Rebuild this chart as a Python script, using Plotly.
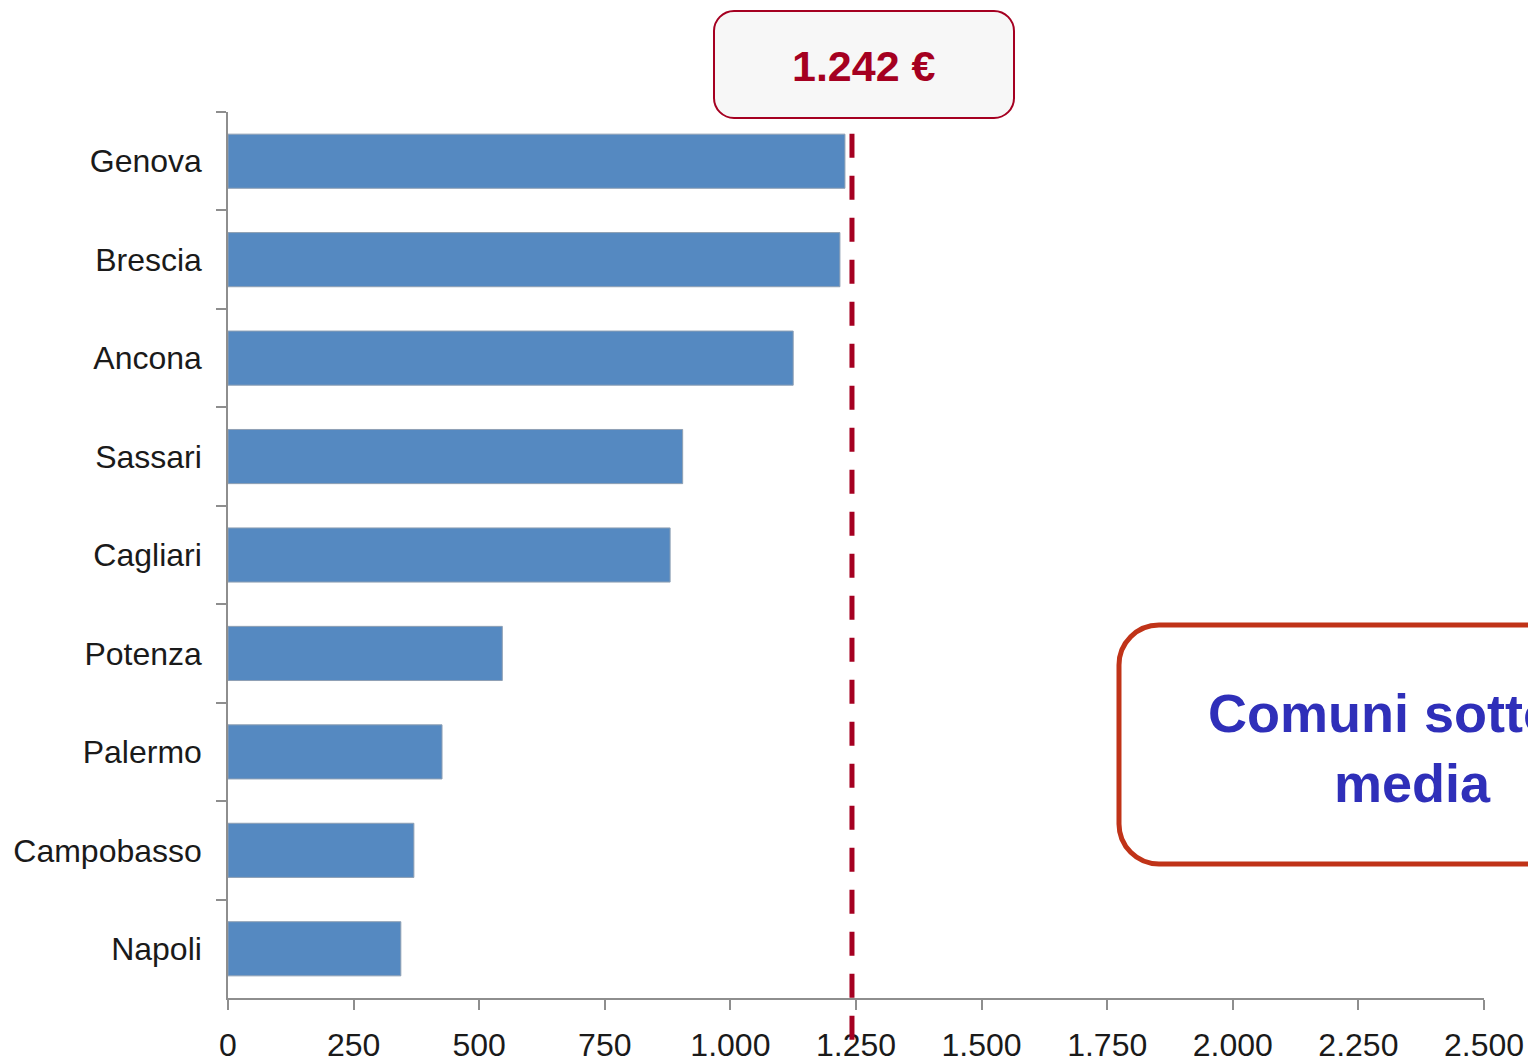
import plotly.graph_objects as go

# dati
comuni = ["Genova", "Brescia", "Ancona", "Sassari", "Cagliari", "Potenza", "Palermo", "Campobasso", "Napoli"]
valori = [1228, 1218, 1125, 905, 880, 546, 426, 370, 344]
media = 1242
media_label = "1.242 €"
x_tickvals = [0, 250, 500, 750, 1000, 1250, 1500, 1750, 2000, 2250, 2500]
x_ticktext = ["0", "250", "500", "750", "1.000", "1.250", "1.500", "1.750", "2.000", "2.250", "2.500"]
nota = "Comuni sotto la<br>media"

W, H = 1528, 1061
L, R, T, B = 228, 44, 112, 63
PW, PH = W - L - R, H - T - B

BAR = "#5589C1"
RED = "#A50021"
ORANGE = "#C03318"
BLUE = "#2F2FB9"
AXIS = "#8E8E8E"
FONT = "Liberation Sans, Arial, sans-serif"


def px_to_paper(x, y):
    return (x - L) / PW, (H - B - y) / PH


def rounded_box(x0, y0, x1, y1, r):
    # rettangolo arrotondato in pixel -> path in coordinate paper
    k = 0.5523 * r
    pts = [
        ("M", [(x0 + r, y0)]),
        ("L", [(x1 - r, y0)]),
        ("C", [(x1 - r + k, y0), (x1, y0 + r - k), (x1, y0 + r)]),
        ("L", [(x1, y1 - r)]),
        ("C", [(x1, y1 - r + k), (x1 - r + k, y1), (x1 - r, y1)]),
        ("L", [(x0 + r, y1)]),
        ("C", [(x0 + r - k, y1), (x0, y1 - r + k), (x0, y1 - r)]),
        ("L", [(x0, y0 + r)]),
        ("C", [(x0, y0 + r - k), (x0 + r - k, y0), (x0 + r, y0)]),
    ]
    out = ""
    for cmd, ps in pts:
        out += cmd + " " + " ".join("%.5f,%.5f" % px_to_paper(a, b) for a, b in ps) + " "
    return out + "Z"


fig = go.Figure(
    go.Bar(
        x=valori,
        y=comuni,
        orientation="h",
        marker=dict(color=BAR, line=dict(color="#8FA0B4", width=1)),
        width=0.55,
        hoverinfo="x+y",
    )
)

fig.add_shape(
    type="line", xref="x", yref="paper",
    x0=media, x1=media, y0=-0.047, y1=1.05,
    line=dict(color=RED, width=5, dash="24px,18px"),
    layer="above",
)
fig.add_shape(
    type="path", xref="paper", yref="paper",
    path=rounded_box(714, 11, 1014, 118, 20),
    line=dict(color=RED, width=2), fillcolor="#F7F7F7", layer="above",
)
fig.add_shape(
    type="path", xref="paper", yref="paper",
    path=rounded_box(1119, 625, 1640, 864, 40),
    line=dict(color=ORANGE, width=5), fillcolor="rgba(255,255,255,0)", layer="above",
)

bx, by = px_to_paper(864, 66)
fig.add_annotation(
    x=bx, y=by, xref="paper", yref="paper", text="<b>%s</b>" % media_label,
    showarrow=False, font=dict(family=FONT, size=43, color=RED),
    xanchor="center", yanchor="middle",
)
nx, ny = px_to_paper(1412, 748)
fig.add_annotation(
    x=nx, y=ny, xref="paper", yref="paper", text="<b>%s</b>" % nota,
    showarrow=False, font=dict(family=FONT, size=54, color=BLUE),
    xanchor="center", yanchor="middle", align="center",
)

fig.update_layout(
    width=W, height=H,
    margin=dict(l=L, r=R, t=T, b=B, autoexpand=False),
    plot_bgcolor="white", paper_bgcolor="white",
    showlegend=False,
    font=dict(family=FONT, size=32, color="#1A1A1A"),
    xaxis=dict(
        range=[0, 2500], tickvals=x_tickvals, ticktext=x_ticktext,
        showgrid=False, zeroline=False, showline=True, linecolor=AXIS, linewidth=1.5,
        ticks="outside", ticklen=10, tickcolor=AXIS, tickwidth=1.5,
        ticklabelstandoff=8, tickfont=dict(size=32),
    ),
    yaxis=dict(
        autorange="reversed", categoryorder="array", categoryarray=comuni,
        showgrid=False, zeroline=False, showline=True, linecolor=AXIS, linewidth=1.5,
        ticks="outside", ticklen=10, tickcolor=AXIS, tickwidth=1.5, tickson="boundaries",
        ticklabelstandoff=18, tickfont=dict(size=32),
    ),
)

# niente margine del body, così la figura parte da (0, 0)
fig.write_html(
    "out.html",
    config={"displayModeBar": False},
    post_script="document.body.style.margin='0';document.body.style.overflow='hidden';",
)
